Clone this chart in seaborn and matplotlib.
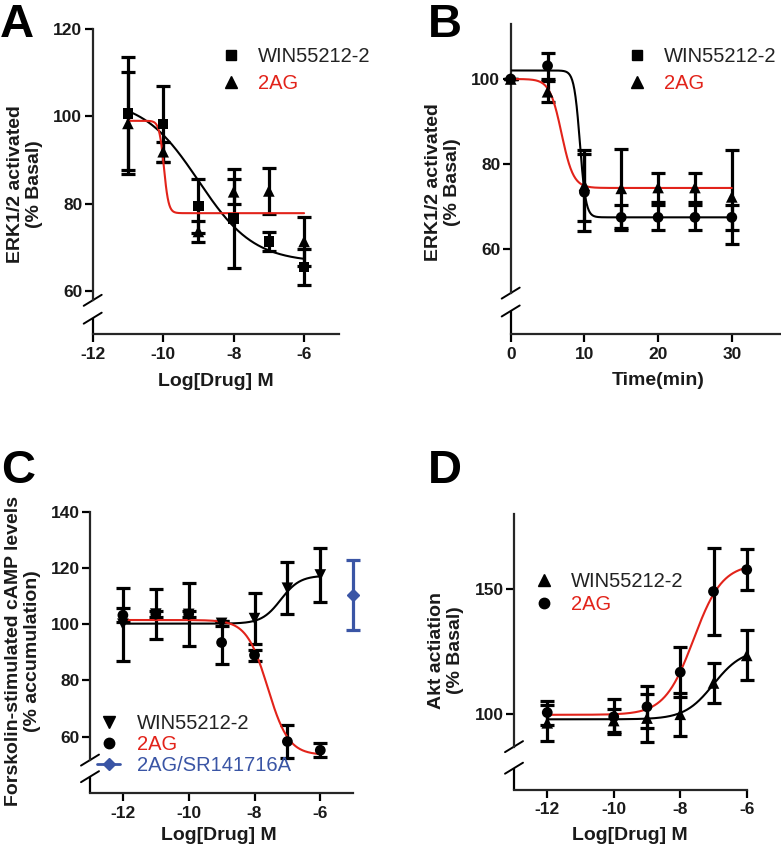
import numpy as np
import pandas as pd
import matplotlib
matplotlib.use("Agg")
import matplotlib.pyplot as plt
import seaborn as sns
from matplotlib.lines import Line2D

# --- data -----------------------------------------------------------------
# panel A: ERK1/2 vs log[drug]
A_x = [-11, -10, -9, -8, -7, -6]
A_win = [100.7, 98.3, 79.4, 76.6, 71.3, 65.5]
A_win_err = [13.0, 8.7, 6.2, 11.4, 2.1, 4.1]
A_2ag = [98.4, 91.9, 73.6, 82.7, 82.9, 71.3]
A_2ag_err = [11.7, 2.3, 2.4, 2.9, 5.3, 5.7]
# fitted curves: bottom, top, logEC50, hill
A_win_fit = [66.5, 104.0, -9.0, -0.55]
A_2ag_fit = [77.8, 99.0, -9.98, -6.5]

# panel B: ERK1/2 vs time
B_x = [0, 5, 10, 15, 20, 25, 30]
B_win = [100.0, 103.1, 73.4, 67.5, 67.5, 67.5, 67.5]
B_win_err = [0.0, 3.1, 9.0, 3.0, 3.0, 3.0, 3.0]
B_2ag = [100.0, 97.0, 75.0, 74.3, 74.5, 74.5, 72.3]
B_2ag_err = [0.0, 2.5, 8.3, 9.2, 3.4, 3.4, 11.1]
B_win_fit = [67.5, 102.0, 9.4, -1.09]
B_2ag_fit = [74.4, 100.0, 6.9, -0.54]

# panel C: cAMP
C_x = [-12, -11, -10, -9, -8, -7, -6]
C_win = [100.0, 103.6, 103.5, 100.3, 102.0, 112.8, 117.5]
C_win_err = [13.0, 9.0, 11.3, 0.8, 9.2, 9.3, 9.5]
C_2ag = [103.2, 103.6, 103.6, 93.5, 89.0, 58.3, 55.2]
C_2ag_err = [2.4, 1.0, 1.0, 7.5, 2.0, 5.8, 2.4]
C_sr_x = [-5]
C_sr = [110.5]
C_sr_err = [12.5]
C_win_fit = [100.2, 117.3, -7.2, 1.5]
C_2ag_fit = [53.5, 101.5, -7.6, -1.36]

# panel D: Akt
D_x = [-12, -10, -9, -8, -7, -6]
D_win = [96.6, 97.5, 98.5, 100.0, 112.5, 123.5]
D_win_err = [7.1, 4.5, 9.5, 8.7, 8.0, 10.0]
D_2ag = [100.7, 99.0, 103.0, 116.8, 149.0, 157.7]
D_2ag_err = [4.8, 7.0, 8.3, 10.0, 17.4, 8.3]
D_win_fit = [98.0, 126.0, -7.0, 1.0]
D_2ag_fit = [99.8, 160.0, -7.6, 1.0]

RED = "#E2231A"
BLUE = "#3A55A5"

sns.set_style("ticks")
plt.rcParams["font.family"] = ["Liberation Sans", "DejaVu Sans"]
plt.rcParams["font.weight"] = "bold"
plt.rcParams["axes.unicode_minus"] = False

W, H = 781, 847
fig = plt.figure(figsize=(W / 100, H / 100), dpi=100)


def px_axes(left, top, right, bottom):
    return fig.add_axes([left / W, 1 - bottom / H, (right - left) / W, (bottom - top) / H])


def sigmoid(x, bottom, top, mid, hill):
    return bottom + (top - bottom) / (1 + 10 ** ((mid - x) * hill))


def draw_curve(ax, lo, hi, fit, color):
    xs = np.linspace(lo, hi, 400)
    sns.lineplot(x=xs, y=sigmoid(xs, *fit), ax=ax, color=color, lw=1.5, zorder=3)


def draw_points(ax, x, y, err, marker, ms=55, color="k"):
    ax.errorbar(x, y, yerr=err, fmt="none", ecolor=color, elinewidth=2.3,
                capsize=5, capthick=2.3, zorder=2, clip_on=False)
    sns.scatterplot(x=x, y=y, ax=ax, marker=marker, color=color, s=ms,
                    edgecolor="none", zorder=4, clip_on=False, legend=False)


def style(ax, xlim, ylim, xticks, yticks, y_hi, y_lo):
    ax.set_xlim(*xlim)
    ax.set_ylim(*ylim)
    ax.set_xticks(xticks)
    ax.set_yticks(yticks)
    ax.set_xticklabels([str(t) for t in xticks])
    ax.set_yticklabels([str(t) for t in yticks])
    sns.despine(ax=ax)
    for s in ["left", "bottom"]:
        ax.spines[s].set_linewidth(1.6)
    ax.tick_params(axis="both", direction="out", length=6, width=1.6,
                   labelsize=12.5, color="k", labelcolor="#1a1a1a")
    ax.tick_params(axis="x", pad=3)
    ax.tick_params(axis="y", pad=1.5)
    ax.set_xlabel("")
    ax.set_ylabel("")
    # broken y axis
    ax.spines["left"].set_bounds(y_hi, ylim[1])
    tr = ax.get_yaxis_transform()
    ax.plot([0, 0], [ylim[0], y_lo], transform=tr, color="k", lw=1.6,
            clip_on=False, solid_capstyle="butt")
    bb = ax.get_position()
    dx = 9 / (bb.width * W)
    dy = 5.5 / (bb.height * H)
    for yv in [y_hi, y_lo]:
        fy = (yv - ylim[0]) / (ylim[1] - ylim[0])
        ax.plot([-dx, dx], [fy - dy, fy + dy], transform=ax.transAxes,
                color="k", lw=1.4, clip_on=False)


def legend(ax, handles, labels, colors, left_px, cy_px, hl, spacing):
    leg = ax.legend(handles, labels, loc="center left",
                    bbox_to_anchor=(left_px / W, 1 - cy_px / H),
                    bbox_transform=fig.transFigure, frameon=False,
                    borderpad=0, borderaxespad=0, handlelength=hl,
                    handletextpad=0.85, labelspacing=spacing,
                    prop={"size": 14.5, "weight": "normal"})
    for t, c in zip(leg.get_texts(), colors):
        t.set_color(c)


def mk(marker, color="k", ms=7.5, ls="none"):
    return Line2D([], [], marker=marker, color=color, markersize=ms,
                  linestyle=ls, lw=2)


# --- panel A --------------------------------------------------------------
axA = px_axes(92.7, 29.3, 339.3, 334.3)
style(axA, (-12, -5), (50, 120), [-12, -10, -8, -6], [60, 80, 100, 120], 57.8, 53.7)
draw_points(axA, A_x, A_win, A_win_err, "s")
draw_points(axA, A_x, A_2ag, A_2ag_err, "^", ms=70)
draw_curve(axA, -11, -6, A_win_fit, "k")
draw_curve(axA, -11, -6, A_2ag_fit, RED)
legend(axA, [mk("s", ms=7), mk("^", ms=8)], ["WIN55212-2", "2AG"], ["#222222", RED],
       221, 70, 1.0, 0.42)

# --- panel B --------------------------------------------------------------
axB = px_axes(510.7, 23.65, 779.7, 334.4)
style(axB, (0, 36.5), (40, 113), [0, 10, 20, 30], [60, 80, 100], 49.7, 45.5)
draw_points(axB, B_x, B_win, B_win_err, "o", ms=60)
draw_points(axB, B_x, B_2ag, B_2ag_err, "^", ms=70)
draw_curve(axB, 0, 30, B_win_fit, "k")
draw_curve(axB, 0, 30, B_2ag_fit, RED)
legend(axB, [mk("s", ms=7), mk("^", ms=8)], ["WIN55212-2", "2AG"], ["#222222", RED],
       626.7, 70, 1.0, 0.42)

# --- panel C --------------------------------------------------------------
axC = px_axes(90, 511.7, 353.2, 793)
style(axC, (-13, -5), (40, 140), [-12, -10, -8, -6], [60, 80, 100, 120, 140], 51.7, 45.8)
draw_points(axC, C_x, C_win, C_win_err, "v", ms=70)
draw_points(axC, C_x, C_2ag, C_2ag_err, "o", ms=60)
axC.errorbar(C_sr_x, C_sr, yerr=C_sr_err, fmt="D", color=BLUE, markersize=6,
             elinewidth=2.3, capsize=5, capthick=2.3, zorder=4, clip_on=False)
draw_curve(axC, -12, -6, C_win_fit, "k")
draw_curve(axC, -12, -6, C_2ag_fit, RED)
legend(axC, [mk("v", ms=8), mk("o", ms=7.5), mk("D", color=BLUE, ms=6, ls="-")],
       ["WIN55212-2", "2AG", "2AG/SR141716A"], ["#222222", RED, BLUE],
       97, 744.5, 1.15, 0.12)

# --- panel D --------------------------------------------------------------
axD = px_axes(514, 513.8, 746.75, 789.5)
style(axD, (-13, -6), (70, 180), [-12, -10, -8, -6], [100, 150], 87.1, 78.5)
draw_points(axD, D_x, D_win, D_win_err, "^", ms=70)
draw_points(axD, D_x, D_2ag, D_2ag_err, "o", ms=60)
draw_curve(axD, -12, -6, D_win_fit, "k")
draw_curve(axD, -12, -6, D_2ag_fit, RED)
legend(axD, [mk("^", ms=8), mk("o", ms=7.5)], ["WIN55212-2", "2AG"], ["#222222", RED],
       534, 593.3, 1.0, 0.18)

# --- axis titles and panel letters ----------------------------------------
def ftext(x, y, s, **kw):
    fig.text(x / W, 1 - y / H, s, **kw)


lab = dict(fontsize=14, weight="bold", ha="center", va="center", color="#1a1a1a")
ftext(25, 184, "ERK1/2 activated\n(% Basal)", rotation=90, multialignment="center", **lab)
ftext(443, 182, "ERK1/2 activated\n(% Basal)", rotation=90, multialignment="center", **lab)
ftext(23, 651, "Forskolin-stimulated cAMP levels\n(% accumulation)", rotation=90,
      multialignment="center", **lab)
ftext(446, 650, "Akt actiation\n(% Basal)", rotation=90, multialignment="center", **lab)
ftext(216, 381, "Log[Drug] M", **lab)
ftext(658, 380, "Time(min)", **lab)
ftext(219, 835, "Log[Drug] M", **lab)
ftext(630, 835, "Log[Drug] M", **lab)

let = dict(fontsize=34, weight="bold", ha="left", va="baseline", color="k")
ftext(0, 37, "A", **let)
ftext(428, 37, "B", **let)
ftext(1, 483, "C", **let)
ftext(428, 483, "D", **let)

# make sure tick labels are bold
fig.canvas.draw()
for ax in [axA, axB, axC, axD]:
    for lbl in ax.get_xticklabels() + ax.get_yticklabels():
        lbl.set_fontweight("bold")

fig.savefig("out.png", dpi=100)
